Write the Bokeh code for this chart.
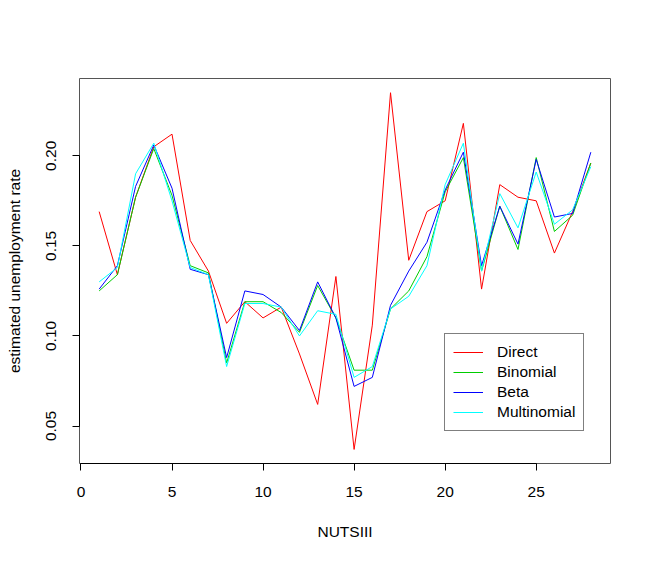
from bokeh.plotting import figure
from bokeh.models import Range1d, FixedTicker, NumeralTickFormatter, Legend, LegendItem
from bokeh.embed import file_html
from bokeh.resources import INLINE

nuts = list(range(1, 29))
direct = [0.169, 0.134, 0.177, 0.205, 0.212, 0.153, 0.136, 0.107, 0.119, 0.110,
          0.116, 0.090, 0.062, 0.133, 0.037, 0.106, 0.235, 0.142, 0.169, 0.175,
          0.218, 0.126, 0.184, 0.177, 0.175, 0.146, 0.169, 0.196]
binomial = [0.125, 0.134, 0.177, 0.204, 0.178, 0.139, 0.135, 0.085, 0.119, 0.119,
            0.113, 0.102, 0.128, 0.110, 0.081, 0.081, 0.115, 0.125, 0.144, 0.180,
            0.199, 0.136, 0.172, 0.148, 0.199, 0.158, 0.167, 0.196]
beta = [0.126, 0.139, 0.183, 0.206, 0.182, 0.137, 0.134, 0.088, 0.125, 0.123,
        0.116, 0.103, 0.130, 0.110, 0.072, 0.077, 0.117, 0.136, 0.152, 0.181,
        0.202, 0.139, 0.172, 0.151, 0.198, 0.166, 0.168, 0.202]
multinomial = [0.130, 0.138, 0.190, 0.207, 0.175, 0.138, 0.134, 0.083, 0.118, 0.118,
               0.116, 0.100, 0.114, 0.112, 0.077, 0.083, 0.115, 0.122, 0.139, 0.184,
               0.207, 0.136, 0.179, 0.160, 0.191, 0.162, 0.170, 0.194]
series_names = ["Direct", "Binomial", "Beta", "Multinomial"]
series_colors = ["#FF0000", "#00CD00", "#0000FF", "#00FFFF"]
x_ticks = [0, 5, 10, 15, 20, 25]
y_ticks = [0.05, 0.10, 0.15, 0.20]

FONT = "Liberation Sans"
FS = "15.5px"

p = figure(width=642, height=553, output_backend="svg", toolbar_location=None,
           x_range=Range1d(-0.08, 29.08), y_range=Range1d(0.0292, 0.2429),
           min_border_left=79, min_border_right=32, min_border_top=78, min_border_bottom=90)
p.xgrid.visible = False
p.ygrid.visible = False
p.outline_line_color = "#555555"
p.outline_line_width = 1
p.background_fill_color = "white"
p.border_fill_color = "white"

renderers = []
for name, ys, col in zip(series_names, [direct, binomial, beta, multinomial], series_colors):
    r = p.line(nuts, ys, line_color=col, line_width=1)
    renderers.append((name, r))

xa = p.xaxis[0]
xa.ticker = FixedTicker(ticks=x_ticks)
xa.bounds = (0, 25)
xa.axis_label = "NUTSIII"
ya = p.yaxis[0]
ya.ticker = FixedTicker(ticks=y_ticks)
ya.bounds = (0.05, 0.20)
ya.formatter = NumeralTickFormatter(format="0.00")
ya.axis_label = "estimated unemployment rate"
ya.major_label_orientation = "vertical"

for ax in (xa, ya):
    ax.axis_line_color = "black"
    ax.major_tick_line_color = "black"
    ax.major_tick_out = 7
    ax.major_tick_in = 0
    ax.minor_tick_line_color = None
    ax.major_label_text_font = FONT
    ax.major_label_text_font_size = FS
    ax.major_label_text_color = "black"
    ax.axis_label_text_font = FONT
    ax.axis_label_text_font_size = FS
    ax.axis_label_text_font_style = "normal"
    ax.axis_label_text_color = "black"

xa.major_label_standoff = 16
xa.axis_label_standoff = 23
ya.major_label_standoff = 16
ya.axis_label_standoff = 21

legend = Legend(items=[LegendItem(label=n, renderers=[r]) for n, r in renderers],
                location=(365, 32), orientation="vertical")
legend.label_text_font = FONT
legend.label_text_font_size = FS
legend.label_text_color = "black"
legend.glyph_width = 30
legend.glyph_height = 20
legend.label_height = 20
legend.label_standoff = 14
legend.spacing = 0
legend.padding = 8
legend.margin = 0
legend.border_line_color = "black"
legend.border_line_width = 1
legend.background_fill_alpha = 1
p.add_layout(legend, "center")

open("out.html", "w").write(file_html(p, INLINE))
